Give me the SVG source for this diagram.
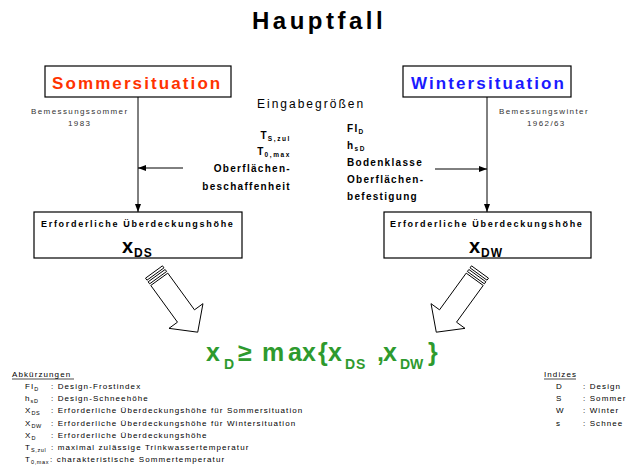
<svg xmlns="http://www.w3.org/2000/svg" width="644" height="472" viewBox="0 0 644 472">
<style>
text{font-family:"Liberation Sans",Arial,sans-serif;fill:#000}
.box{fill:#fff;stroke:#000;stroke-width:1.2}
.conn{stroke:#000;stroke-width:1;fill:none}
.blk{fill:#fff;stroke:#000;stroke-width:0.9;stroke-linejoin:miter}
.head{font-size:17px;font-weight:bold;letter-spacing:2.1px}
.res{font-size:9px;font-weight:bold;letter-spacing:1.7px}
.note{font-size:8px;letter-spacing:1.4px;fill:#333}
.inp{font-size:10px;font-weight:bold;letter-spacing:1.3px}
.isub{font-size:6.5px;letter-spacing:1.6px}
.leg{font-size:8px;letter-spacing:1.1px}
.lsub{font-size:5.5px;letter-spacing:0.6px}
.frm{font-size:25px;font-weight:bold;fill:#2e9a2e}
.fsub{font-size:14px;font-weight:bold;fill:#2e9a2e}
</style>
<defs>
<marker id="ah" markerWidth="8" markerHeight="6" refX="8" refY="3" orient="auto" markerUnits="userSpaceOnUse">
<path d="M0,0 L8,3 L0,6 Z" fill="#000"/>
</marker>
<g id="blockArrow">
<path class="blk" d="M0,-10.5 H2.5 V10.5 H0 Z"/>
<path class="blk" d="M4.5,-10.5 H7 V10.5 H4.5 Z"/>
<path class="blk" d="M9,-10.5 H54.4 V-21 L74.4,0 L54.4,21 V10.5 H9 Z"/>
</g>
</defs>
<rect width="644" height="472" fill="#fff"/>

<g id="title">
<text x="252" y="29" font-size="24" font-weight="bold" letter-spacing="3.5">Hauptfall</text>
</g>

<g id="connectors">
<line class="conn" x1="138" y1="97" x2="138" y2="212" marker-end="url(#ah)"/>
<line class="conn" x1="183" y1="168" x2="138" y2="168" marker-end="url(#ah)"/>
<line class="conn" x1="487" y1="97" x2="487" y2="212" marker-end="url(#ah)"/>
<line class="conn" x1="435" y1="169" x2="487" y2="169" marker-end="url(#ah)"/>
<use href="#blockArrow" transform="translate(154,272) rotate(54)"/>
<use href="#blockArrow" transform="translate(480,272) rotate(126)"/>
</g>

<g id="sommer">
<rect class="box" x="45" y="66" width="186" height="31"/>
<text class="head" x="52" y="89" style="fill:#ff3300">Sommersituation</text>
</g>

<g id="winter">
<rect class="box" x="403" y="66" width="168" height="31"/>
<text class="head" x="411" y="89" style="fill:#1a1aff">Wintersituation</text>
</g>

<g id="note-sommer">
<text class="note" x="31" y="114">Bemessungssommer</text>
<text class="note" x="68" y="126">1983</text>
</g>

<g id="note-winter">
<text class="note" x="499" y="114">Bemessungswinter</text>
<text class="note" x="527" y="126">1962/63</text>
</g>

<g id="eingabe">
<text x="257" y="108" font-size="12" letter-spacing="2">Eingabegrößen</text>
</g>

<g id="eingabe-sommer">
<text class="inp" x="291" y="139" text-anchor="end">T<tspan class="isub" dy="2">S,zul</tspan></text>
<text class="inp" x="291" y="155" text-anchor="end">T<tspan class="isub" dy="2">0,max</tspan></text>
<text class="inp" x="291" y="172" text-anchor="end">Oberflächen-</text>
<text class="inp" x="291" y="190" text-anchor="end">beschaffenheit</text>
</g>

<g id="eingabe-winter">
<text class="inp" x="347" y="132">FI<tspan class="isub" dy="2">D</tspan></text>
<text class="inp" x="347" y="149">h<tspan class="isub" dy="2">sD</tspan></text>
<text class="inp" x="347" y="166">Bodenklasse</text>
<text class="inp" x="347" y="183">Oberflächen-</text>
<text class="inp" x="347" y="200">befestigung</text>
</g>

<g id="ergebnis-sommer">
<rect class="box" x="34" y="212" width="208" height="46"/>
<text class="res" x="41" y="227">Erforderliche Überdeckungshöhe</text>
<text x="122" y="253" font-size="20" font-weight="bold">x</text>
<text x="134" y="257" font-size="12" font-weight="bold" letter-spacing="1">DS</text>
</g>

<g id="ergebnis-winter">
<rect class="box" x="384" y="212" width="207" height="46"/>
<text class="res" x="390" y="227">Erforderliche Überdeckungshöhe</text>
<text x="469" y="253" font-size="20" font-weight="bold">x</text>
<text x="481" y="257" font-size="12" font-weight="bold" letter-spacing="1">DW</text>
</g>

<g id="formel">
<text class="frm" y="361"><tspan x="206">x</tspan><tspan x="238">≥</tspan><tspan x="262 288 302 318">max{</tspan><tspan x="328">x</tspan><tspan x="377">,</tspan><tspan x="383">x</tspan><tspan x="428">}</tspan></text>
<text class="fsub" y="369"><tspan x="224">D</tspan><tspan x="345 356">DS</tspan><tspan x="400 410">DW</tspan></text>
</g>

<g id="abkuerzungen">
<text class="leg" x="12" y="377">Abkürzungen</text>
<line x1="12" y1="379" x2="74" y2="379" stroke="#000" stroke-width="0.7"/>
<text class="leg" x="25" y="389">FI<tspan class="lsub" dy="2">D</tspan></text>
<text class="leg" x="51" y="389">: Design-Frostindex</text>
<text class="leg" x="25" y="401.2">h<tspan class="lsub" dy="2">sD</tspan></text>
<text class="leg" x="51" y="401.2">: Design-Schneehöhe</text>
<text class="leg" x="25" y="413.4">X<tspan class="lsub" dy="2">DS</tspan></text>
<text class="leg" x="51" y="413.4">: Erforderliche Überdeckungshöhe für Sommersituation</text>
<text class="leg" x="25" y="425.6">X<tspan class="lsub" dy="2">DW</tspan></text>
<text class="leg" x="51" y="425.6">: Erforderliche Überdeckungshöhe für Wintersituation</text>
<text class="leg" x="25" y="437.8">X<tspan class="lsub" dy="2">D</tspan></text>
<text class="leg" x="51" y="437.8">: Erforderliche Überdeckungshöhe</text>
<text class="leg" x="25" y="450">T<tspan class="lsub" dy="2">S,zul</tspan></text>
<text class="leg" x="51" y="450">: maximal zulässige Trinkwassertemperatur</text>
<text class="leg" x="25" y="462.2">T<tspan class="lsub" dy="2">0,max</tspan></text>
<text class="leg" x="50" y="462.2">: charakteristische Sommertemperatur</text>
</g>

<g id="indizes">
<text class="leg" x="544" y="377">Indizes</text>
<line x1="544" y1="379" x2="576" y2="379" stroke="#000" stroke-width="0.7"/>
<text class="leg" x="556" y="389">D</text>
<text class="leg" x="583" y="389">: Design</text>
<text class="leg" x="556" y="401.2">S</text>
<text class="leg" x="583" y="401.2">: Sommer</text>
<text class="leg" x="556" y="413.4">W</text>
<text class="leg" x="583" y="413.4">: Winter</text>
<text class="leg" x="556" y="425.6">s</text>
<text class="leg" x="583" y="425.6">: Schnee</text>
</g>
</svg>
